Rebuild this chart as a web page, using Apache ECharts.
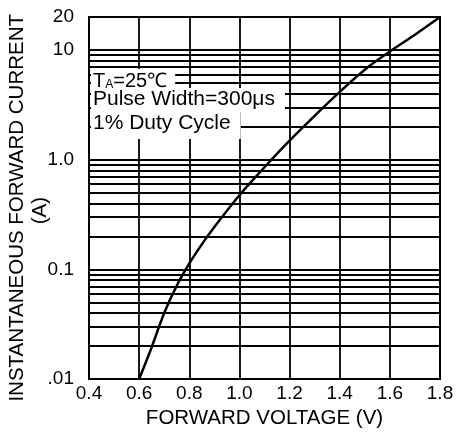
<!DOCTYPE html>
<html>
<head>
<meta charset="utf-8">
<script src="https://cdn.jsdelivr.net/npm/echarts@6/dist/echarts.min.js"></script>
<style>
html,body{margin:0;padding:0;background:#fff;}
#c{width:459px;height:434px;}
</style>
</head>
<body>
<div id="c"></div>
<script>
// Data
var voltage = [0.6, 0.65, 0.7, 0.75, 0.8, 0.85, 0.9, 1.0, 1.1, 1.2, 1.3, 1.4, 1.5, 1.6, 1.7, 1.8];
var current = [0.01, 0.0195, 0.040, 0.071, 0.113, 0.169, 0.243, 0.474, 0.853, 1.49, 2.51, 4.15, 6.62, 9.69, 13.8, 20];
var xTicks = ['0.4', '0.6', '0.8', '1.0', '1.2', '1.4', '1.6', '1.8'];
var yTickValues = [0.01, 0.1, 1, 10, 20];
var yTickLabels = ['.01', '0.1', '1.0', '10', '20'];
var minorGrid = [0.02, 0.03, 0.04, 0.05, 0.06, 0.07, 0.08, 0.09,
                 0.2, 0.3, 0.4, 0.5, 0.6, 0.7, 0.8, 0.9,
                 2, 3, 4, 5, 6, 7, 8, 9];
var xTitle = 'FORWARD VOLTAGE (V)';
var yTitle1 = 'INSTANTANEOUS FORWARD CURRENT';
var yTitle2 = '(A)';
var notes = ['Pulse Width=300\u03bcs', '1% Duty Cycle'];

var FONT = '"Liberation Sans", Arial, Helvetica, sans-serif';
var pts = voltage.map(function (v, i) { return [v, current[i]]; });

var chart = echarts.init(document.getElementById('c'), null, {renderer: 'canvas'});
chart.setOption({
  animation: false,
  backgroundColor: '#fff',
  grid: {left: 89, right: 19, top: 17, bottom: 54, show: true, borderColor: '#000', borderWidth: 2, backgroundColor: 'transparent'},
  xAxis: {
    type: 'value', min: 0.4, max: 1.8, interval: 0.2,
    axisLine: {show: true, lineStyle: {color: '#000', width: 2}},
    axisTick: {show: false},
    splitLine: {show: true, lineStyle: {color: '#000', width: 1.8}},
    axisLabel: {
      color: '#000', fontSize: 19, fontFamily: FONT, margin: 5,
      formatter: function (v) {
        var i = Math.round((v - 0.4) / 0.2);
        return xTicks[i] !== undefined ? xTicks[i] : '';
      }
    },
    name: xTitle, nameLocation: 'middle', nameGap: 29,
    nameTextStyle: {color: '#000', fontSize: 20.5, fontFamily: FONT}
  },
  yAxis: {
    type: 'log', logBase: 10, min: 0.01, max: 20,
    axisLine: {show: true, lineStyle: {color: '#000', width: 2}},
    axisTick: {show: false},
    splitLine: {show: true, lineStyle: {color: '#000', width: 1.8}},
    axisLabel: {
      color: '#000', fontSize: 19, fontFamily: FONT, margin: 15,
      formatter: function (v) {
        for (var i = 0; i < yTickValues.length; i++) {
          if (Math.abs(Math.log10(v) - Math.log10(yTickValues[i])) < 1e-6) return yTickLabels[i];
        }
        return '';
      }
    }
  },
  series: [{
    type: 'line', data: pts, smooth: 0.35, symbol: 'none',
    lineStyle: {color: '#000', width: 2.5},
    z: 3,
    markLine: {
      silent: true, symbol: 'none', label: {show: false},
      lineStyle: {color: '#000', width: 1.8, type: 'solid'},
      data: minorGrid.map(function (v) { return {yAxis: v}; }),
      animation: false
    }
  }],
  graphic: [
    {type: 'text', left: 7, top: 14, rotation: Math.PI / 2, z: 10,
     style: {text: yTitle1, fill: '#000', font: '20.5px ' + FONT}},
    {type: 'text', left: 30, top: 197, rotation: Math.PI / 2, z: 10,
     style: {text: yTitle2, fill: '#000', font: '20.5px ' + FONT}},
    {type: 'text', left: 91, top: 69, z: 10,
     style: {
       text: '{a|T}{s|A}{a|=25\u2103}',
       backgroundColor: '#fff', padding: [2, 8, 1, 2],
       rich: {
         a: {fontSize: 20, fontFamily: FONT, fill: '#000', color: '#000'},
         s: {fontSize: 12, fontFamily: FONT, fill: '#000', color: '#000', verticalAlign: 'bottom', padding: [8, 0, 0, 0]}
       }
     }},
    {type: 'text', left: 91, top: 88, z: 10,
     style: {text: notes[0], fill: '#000', font: '21px ' + FONT, backgroundColor: '#fff', padding: [1, 10, 2, 2]}},
    {type: 'text', left: 91, top: 112, z: 10,
     style: {text: notes[1], fill: '#000', font: '21px ' + FONT, backgroundColor: '#fff', padding: [1, 10, 5, 2]}}
  ]
});
</script>
</body>
</html>
